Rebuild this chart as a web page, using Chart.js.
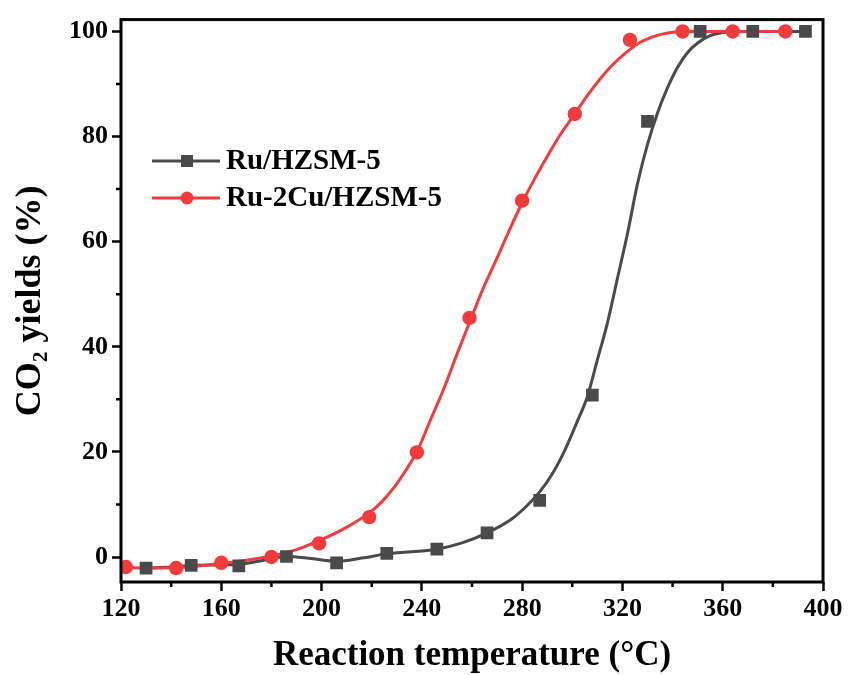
<!DOCTYPE html>
<html><head><meta charset="utf-8">
<script src="https://cdn.jsdelivr.net/npm/chart.js@4/dist/chart.umd.min.js"></script>
<style>html,body{margin:0;padding:0;background:#fff}</style>
</head><body>
<canvas id="c" width="850" height="675"></canvas>
<script>
// ---- data ----
const seriesNames = ['Ru/HZSM-5', 'Ru-2Cu/HZSM-5'];

// measured points
const grayTemp  = [130, 148, 167, 186, 206, 226, 246, 266, 287, 308, 330, 351, 372, 393];
const grayYield = [-2.1, -1.6, -1.7, 0.1, -1.1, 0.7, 1.5, 4.6, 10.8, 30.8, 82.9, 100, 100, 100];
const redTemp   = [122, 142, 160, 180, 199, 219, 238, 259, 280, 301, 323, 344, 364, 385];
const redYield  = [-1.9, -2.1, -1.1, 0.0, 2.6, 7.6, 19.9, 45.5, 67.8, 84.3, 98.4, 100, 100, 100];

// fitted curves
const grayFitTemp  = [130, 140, 148, 158, 167, 177, 186, 196, 206, 216, 226, 236, 246, 256, 266, 276, 282, 287, 292, 297, 302, 306, 310, 314, 318, 322, 326, 330, 334, 338, 342, 346, 350, 355, 360, 366, 393];
const grayFitYield = [-2.1, -1.9, -1.6, -1.5, -1.4, -0.6, 0.1, -0.3, -0.8, -0.2, 0.6, 1.0, 1.5, 2.7, 4.6, 7.3, 9.8, 12.4, 15.8, 20.3, 25.8, 30.5, 37.5, 44.5, 53.0, 61.5, 71.0, 78.5, 84.5, 89.3, 93.2, 96.0, 97.8, 99.2, 99.8, 100, 100];
const redFitTemp   = [122, 132, 142, 151, 160, 170, 180, 190, 199, 209, 219, 224, 229, 234, 238, 243, 249, 254, 259, 264, 270, 275, 280, 285, 290, 295, 301, 306, 311, 316, 322, 327, 333, 338, 344, 364, 385];
const redFitYield  = [-2.0, -2.1, -2.0, -1.7, -1.2, -0.6, 0.2, 1.4, 3.1, 5.4, 8.4, 10.5, 13.3, 16.8, 20.0, 25.6, 32.3, 38.6, 44.6, 50.6, 56.9, 62.3, 67.4, 72.0, 76.2, 80.2, 84.3, 87.8, 90.9, 93.6, 96.2, 97.9, 99.1, 99.7, 100, 100, 100];

// axes
const xMajorTicks = [120, 160, 200, 240, 280, 320, 360, 400];
const xMinorTicks = [140, 180, 220, 260, 300, 340, 380];
const yMajorTicks = [0, 20, 40, 60, 80, 100];
const yMinorTicks = [10, 30, 50, 70, 90];
const xTitle = 'Reaction temperature (°C)';
const yTitle = 'CO\u2082 yields (%)';

// ---- styles ----
const GRAY = '#4a4a4a';
const RED = '#f23c3c';
const FONT = '"Liberation Serif", "Times New Roman", serif';

const pts = (xs, ys) => xs.map((x, i) => ({x, y: ys[i]}));

const framePlugin = {
  id: 'frame',
  afterDraw(chart) {
    const {ctx, chartArea: a, scales: {x, y}} = chart;
    ctx.save();
    ctx.strokeStyle = '#000';
    ctx.lineWidth = 3;
    ctx.strokeRect(a.left, a.top, a.right - a.left, a.bottom - a.top);
    ctx.lineWidth = 2.5;
    ctx.beginPath();
    xMinorTicks.forEach(v => { const p = x.getPixelForValue(v); ctx.moveTo(p, a.bottom); ctx.lineTo(p, a.bottom + 5); });
    yMinorTicks.forEach(v => { const p = y.getPixelForValue(v); ctx.moveTo(a.left, p); ctx.lineTo(a.left - 5, p); });
    ctx.stroke();

    // legend
    const items = [
      {name: seriesNames[0], color: GRAY, shape: 'rect', y: 161},
      {name: seriesNames[1], color: RED, shape: 'circle', y: 198}
    ];
    items.forEach(it => {
      ctx.strokeStyle = it.color;
      ctx.lineWidth = 3;
      ctx.beginPath(); ctx.moveTo(152, it.y); ctx.lineTo(220, it.y); ctx.stroke();
      ctx.fillStyle = it.color;
      if (it.shape === 'rect') { ctx.fillRect(181, it.y - 6, 12, 12); }
      else { ctx.beginPath(); ctx.arc(187, it.y, 6.5, 0, Math.PI * 2); ctx.fill(); }
      ctx.fillStyle = '#000';
      ctx.font = 'bold 29px ' + FONT;
      ctx.textBaseline = 'middle';
      ctx.textAlign = 'left';
      ctx.fillText(it.name, 226, it.y + 1);
    });
    ctx.restore();
  }
};

new Chart(document.getElementById('c'), {
  type: 'scatter',
  data: {
    datasets: [
      {label: seriesNames[1] + ' points', data: pts(redTemp, redYield), showLine: false,
       pointStyle: 'circle', pointRadius: 7.2, pointBackgroundColor: RED, pointBorderWidth: 0, pointHoverRadius: 7.2},
      {label: seriesNames[0] + ' points', data: pts(grayTemp, grayYield), showLine: false,
       pointStyle: 'rect', pointRadius: 9, pointBackgroundColor: GRAY, pointBorderWidth: 0, pointHoverRadius: 9},
      {label: seriesNames[1] + ' fit', data: pts(redFitTemp, redFitYield), showLine: true,
       borderColor: RED, borderWidth: 3, pointRadius: 0, cubicInterpolationMode: 'monotone'},
      {label: seriesNames[0] + ' fit', data: pts(grayFitTemp, grayFitYield), showLine: true,
       borderColor: GRAY, borderWidth: 3, pointRadius: 0, cubicInterpolationMode: 'monotone'}
    ]
  },
  options: {
    responsive: false,
    animation: false,
    devicePixelRatio: 1,
    layout: {padding: {left: 0, right: 27, top: 17, bottom: 0}},
    plugins: {legend: {display: false}, tooltip: {enabled: false}},
    scales: {
      x: {
        type: 'linear', min: 120, max: 400,
        afterBuildTicks: s => { s.ticks = xMajorTicks.map(v => ({value: v})); },
        afterFit: s => { s.height = 93; },
        border: {display: false},
        grid: {drawOnChartArea: false, drawTicks: true, tickLength: 9, tickWidth: 2.5, tickColor: '#000'},
        ticks: {color: '#000', padding: 3, maxRotation: 0, autoSkip: false, font: {family: FONT, size: 26, weight: 'bold'}},
        title: {display: true, text: xTitle, color: '#000', padding: {top: 0, bottom: 0},
                font: {family: FONT, size: 35, weight: 'bold', lineHeight: 1.1}}
      },
      y: {
        type: 'linear', min: -4.75, max: 102.25,
        afterBuildTicks: s => { s.ticks = yMajorTicks.map(v => ({value: v})); },
        afterFit: s => { s.width = 121; },
        border: {display: false},
        grid: {drawOnChartArea: false, drawTicks: true, tickLength: 9, tickWidth: 2.5, tickColor: '#000'},
        ticks: {color: '#000', padding: 4, autoSkip: false, font: {family: FONT, size: 26, weight: 'bold'}},
        title: {display: true, text: yTitle, color: '#000', padding: {top: 11, bottom: 0},
                font: {family: FONT, size: 36, weight: 'bold', lineHeight: 1.1}}
      }
    }
  },
  plugins: [framePlugin]
});
</script>
</body></html>
